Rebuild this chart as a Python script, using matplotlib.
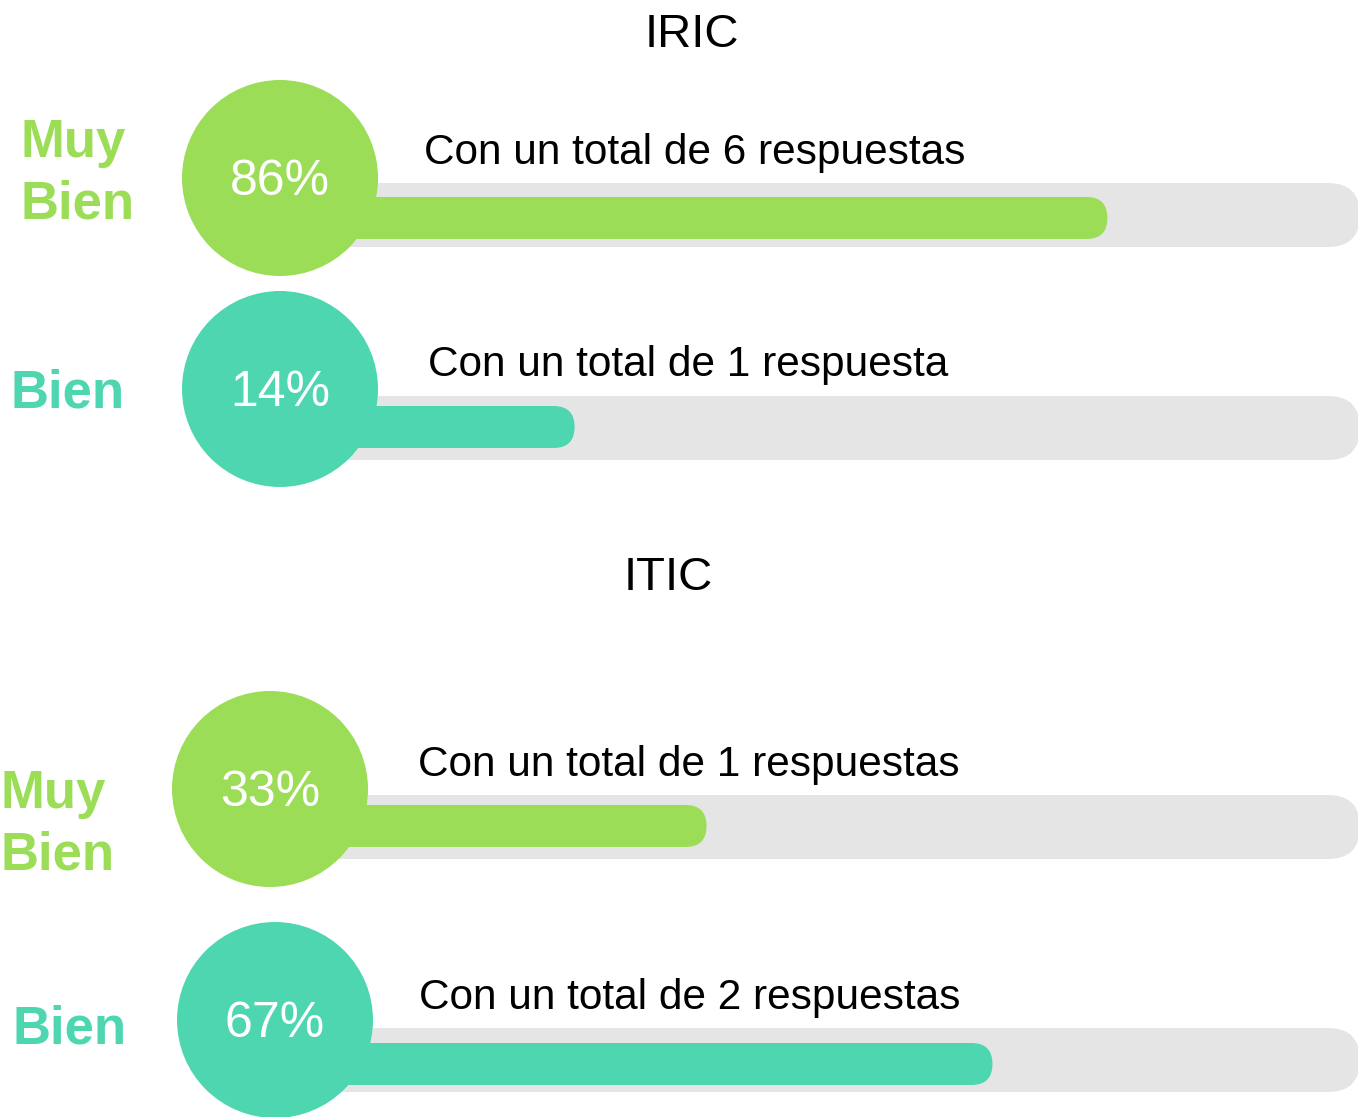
import matplotlib.pyplot as plt
from matplotlib.patches import Circle, FancyBboxPatch

# data
groups = ['IRIC', 'ITIC']
levels = ['Muy\nBien', 'Bien']
iric_pct = [86, 14]
itic_pct = [33, 67]
iric_notes = ['Con un total de 6 respuestas', 'Con un total de 1 respuesta']
itic_notes = ['Con un total de 1 respuestas', 'Con un total de 2 respuestas']

GREEN = '#9BDD57'
TEAL = '#4DD6B0'
TRACK = '#E5E5E5'
colors = [GREEN, TEAL]

W, H = 1358, 1117
FONT = 'Liberation Sans'

fig = plt.figure(figsize=(W / 100, H / 100), dpi=100)
ax = fig.add_axes([0, 0, 1, 1])
ax.set_xlim(0, W)
ax.set_ylim(H, 0)
ax.axis('off')

# layout per panel (pixel space)
panels = [
    dict(title='IRIC', title_xy=(692, 35), pct=iric_pct, notes=iric_notes,
         origin=471, full=740,
         circles=[(280, 178), (280, 389)],
         tracks=[215, 428], fills=[218, 427],
         note_xy=[(424, 153), (428, 365)],
         label_xy=[(21, 174), (11, 393)]),
    dict(title='ITIC', title_xy=(668, 578), pct=itic_pct, notes=itic_notes,
         origin=429, full=841,
         circles=[(270, 789), (275, 1020)],
         tracks=[827, 1060], fills=[826, 1064],
         note_xy=[(418, 765), (419, 998)],
         label_xy=[(0, 825), (13, 1029)]),
]

R = 98
track_h, fill_h = 64, 42

for p in panels:
    ax.text(p['title_xy'][0], p['title_xy'][1], p['title'], ha='center', va='center',
            fontsize=34, family=FONT, color='black')
    for i, pct in enumerate(p['pct']):
        cx, cy = p['circles'][i]
        ty = p['tracks'][i]
        fy = p['fills'][i]
        # background track
        ax.add_patch(FancyBboxPatch((cx + 40, ty - track_h / 2), W + 2 - (cx + 40), track_h,
                                    boxstyle=f'round,pad=0,rounding_size={track_h / 2}',
                                    fc=TRACK, ec='none', zorder=1))
        # value bar
        end = p['origin'] + pct / 100 * p['full']
        ax.add_patch(FancyBboxPatch((cx, fy - fill_h / 2), end - cx, fill_h,
                                    boxstyle=f'round,pad=0,rounding_size={fill_h / 2}',
                                    fc=colors[i], ec='none', zorder=2))
        ax.add_patch(Circle((cx, cy), R, fc=colors[i], ec='none', zorder=3))
        ax.text(cx, cy + 4, f'{pct}%', ha='center', va='center', color='white',
                fontsize=36, family=FONT, zorder=4)
        nx, ny = p['note_xy'][i]
        ax.text(nx, ny, p['notes'][i], ha='left', va='center', color='black',
                fontsize=30.5, family=FONT, zorder=4)
        lx, ly = p['label_xy'][i]
        ax.text(lx, ly, levels[i], ha='left', va='center', color=colors[i],
                fontsize=38, fontweight='bold', family=FONT, linespacing=1.3, zorder=4)

fig.savefig('out.png', dpi=100, facecolor='white')
